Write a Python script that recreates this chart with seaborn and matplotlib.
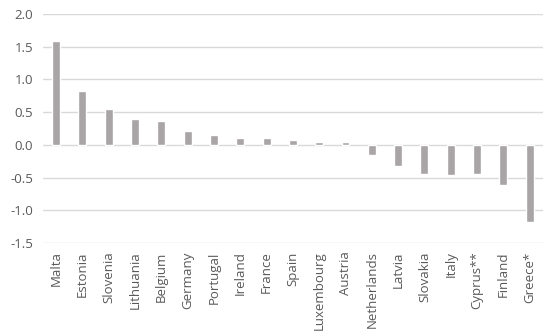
import matplotlib
matplotlib.use("Agg")
import matplotlib.pyplot as plt
import seaborn as sns
import pandas as pd

countries = ["Malta", "Estonia", "Slovenia", "Lithuania", "Belgium", "Germany", "Portugal",
             "Ireland", "France", "Spain", "Luxembourg", "Austria", "Netherlands", "Latvia",
             "Slovakia", "Italy", "Cyprus**", "Finland", "Greece*"]
values = [1.59, 0.82, 0.55, 0.40, 0.37, 0.215, 0.15, 0.10, 0.10, 0.07, 0.05, 0.04,
          -0.15, -0.33, -0.45, -0.46, -0.45, -0.62, -1.18]
yticks = [-1.5, -1.0, -0.5, 0.0, 0.5, 1.0, 1.5, 2.0]

df = pd.DataFrame({"country": countries, "value": values})

sns.set_theme(style="white")
plt.rcParams["font.family"] = ["Open Sans", "DejaVu Sans"]

fig = plt.figure(figsize=(5.5, 3.32), dpi=100)
ax = fig.add_axes([0.078, 0.268, 0.909, 0.69])
sns.barplot(data=df, x="country", y="value", color="#a9a4a5", saturation=1,
            width=0.3, ax=ax)
ax.set_ylim(-1.5, 2.0)
ax.set_yticks(yticks)
ax.set_yticklabels([f"{t:.1f}" for t in yticks])
ax.yaxis.grid(True, color="#d9d9d9", linewidth=1)
ax.set_axisbelow(True)
for s in ax.spines.values():
    s.set_visible(False)
ax.set_xlabel("")
ax.set_ylabel("")
ax.tick_params(axis="both", length=0, colors="#595959", labelsize=9.5)
ax.tick_params(axis="x", pad=6)
ax.tick_params(axis="y", pad=7)
plt.setp(ax.get_xticklabels(), rotation=90)
ax.set_xlim(-0.5, len(countries) - 0.5)
fig.savefig("out.png", dpi=100)
